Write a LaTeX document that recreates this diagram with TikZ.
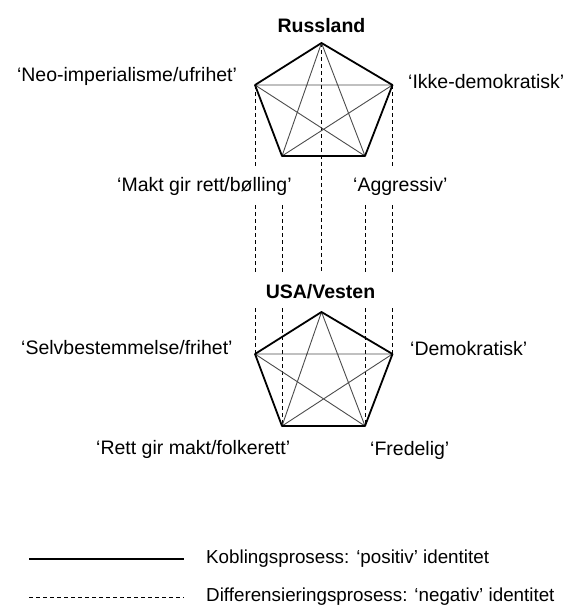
\documentclass[tikz,border=0pt]{standalone}
\usepackage{fontspec}
\setmainfont{Liberation Sans}
\begin{document}
\begin{tikzpicture}[x=1pt,y=-1pt,
  lbl/.style={font=\fontsize{19.5}{23}\selectfont, inner sep=0pt, anchor=base west},
  lblc/.style={font=\fontsize{19.5}{23}\selectfont, inner sep=0pt, anchor=base},
  legtxt/.style={font=\fontsize{18.8}{23}\selectfont, inner sep=0pt, anchor=base west},
  ttl/.style={font=\fontsize{19.5}{23}\selectfont\bfseries, inner sep=0pt, anchor=base},
  pedge/.style={line width=1.8pt, line join=round, line cap=round},
  pdiag/.style={line width=0.9pt, black!70},
  dsh/.style={dash pattern=on 4pt off 3pt, line width=0.9pt},
  leg/.style={line width=1.1pt}]
\useasboundingbox (0,0) rectangle (566,606);
% Russland pentagon
\coordinate (rT) at (321.5,43);
\coordinate (rL) at (255,85);
\coordinate (rR) at (392.5,85);
\coordinate (rBL) at (282,156);
\coordinate (rBR) at (365,156);
% USA pentagon
\coordinate (uT) at (321.5,312);
\coordinate (uL) at (255,354);
\coordinate (uR) at (392.5,354);
\coordinate (uBL) at (282,426);
\coordinate (uBR) at (365,426);
% dashed line ends
\coordinate (a1) at (255,167);
\coordinate (a2) at (255,205);
\coordinate (a3) at (255,272);
\coordinate (a4) at (255,308);
\coordinate (b1) at (392.5,167);
\coordinate (b2) at (392.5,205);
\coordinate (b3) at (392.5,272);
\coordinate (b4) at (392.5,308);
\coordinate (c2) at (282,205);
\coordinate (c3) at (282,272);
\coordinate (c4) at (282,308);
\coordinate (d2) at (365,205);
\coordinate (d3) at (365,272);
\coordinate (d4) at (365,308);
\coordinate (m3) at (321.5,272);
% dashed lines
\draw[dsh] (rL) -- (a1) (a2) -- (a3) (a4) -- (uL);
\draw[dsh] (rR) -- (b1) (b2) -- (b3) (b4) -- (uR);
\draw[dsh] (c2) -- (c3) (c4) -- (uBL);
\draw[dsh] (d2) -- (d3) (d4) -- (uBR);
\draw[dsh] (rT) -- (m3);
% diagonals
\draw[pdiag] (rL) -- (rR) (rL) -- (rBR) (rT) -- (rBL) (rT) -- (rBR) (rR) -- (rBL);
\draw[pdiag] (uL) -- (uR) (uL) -- (uBR) (uT) -- (uBL) (uT) -- (uBR) (uR) -- (uBL);
% edges
\draw[pedge] (rT) -- (rR) -- (rBR) -- (rBL) -- (rL) -- cycle;
\draw[pedge] (uT) -- (uR) -- (uBR) -- (uBL) -- (uL) -- cycle;
% titles
\node[ttl] (russ) at (321.5,32) {Russland};
\node[ttl] (usa) at (320.5,298) {USA/Vesten};
% labels
\node[lblc] (neo) at (127,81) {‘Neo-imperialisme/ufrihet’};
\node[lbl] (ikke) at (408,88) {‘Ikke-demokratisk’};
\node[lbl] (makt) at (117,191) {‘Makt gir rett/bølling’};
\node[lbl] (aggr) at (353,191) {‘Aggressiv’};
\node[lbl] (selv) at (21,354) {‘Selvbestemmelse/frihet’};
\node[lbl] (demo) at (410,355) {‘Demokratisk’};
\node[lbl] (rett) at (96,454) {‘Rett gir makt/folkerett’};
\node[lbl] (fred) at (370,455) {‘Fredelig’};
% legend
\coordinate (s1) at (29,559);
\coordinate (s2) at (184,559);
\coordinate (t1) at (29,597);
\coordinate (t2) at (184,597);
\draw[leg] (s1) -- (s2);
\draw[dsh] (t1) -- (t2);
\node[legtxt] (k1) at (206,563) {Koblingsprosess: ‘positiv’ identitet};
\node[legtxt] (k2) at (206,601) {Differensieringsprosess: ‘negativ’ identitet};
\end{tikzpicture}
\end{document}
